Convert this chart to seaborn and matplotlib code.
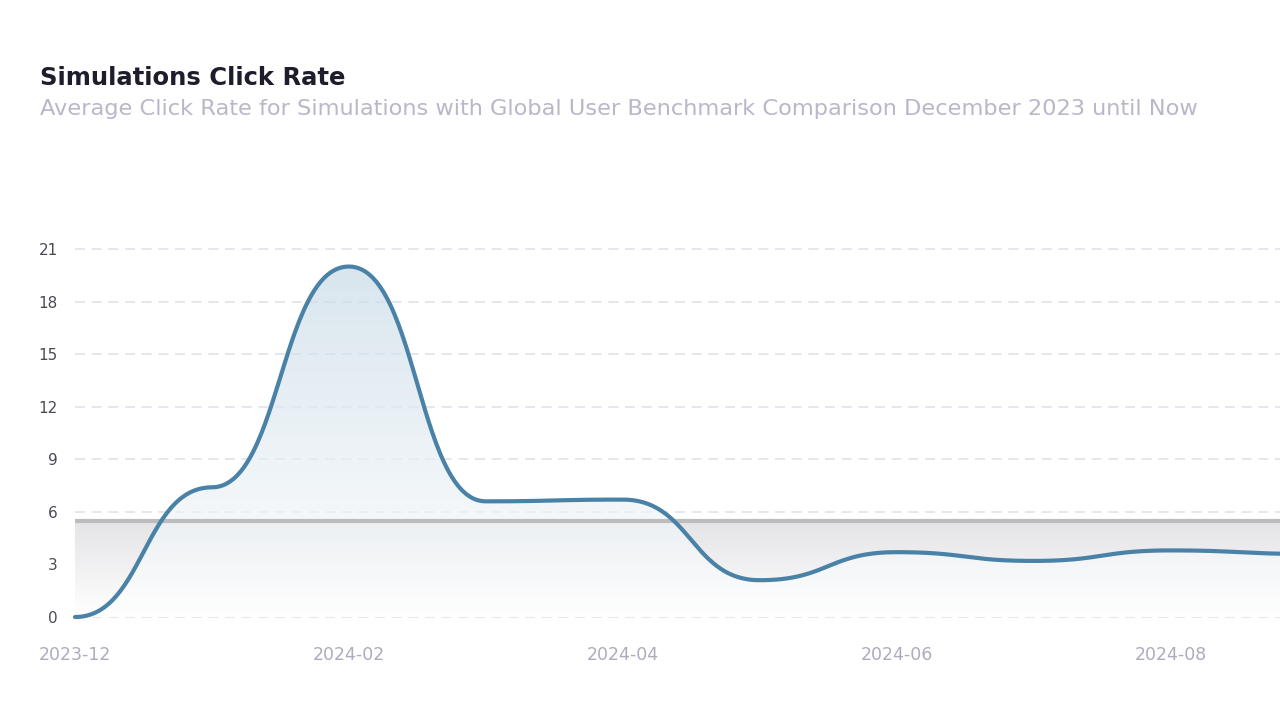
import numpy as np
import pandas as pd
import seaborn as sns
import matplotlib.pyplot as plt
from matplotlib.colors import LinearSegmentedColormap

# DATA
months = ["2023-12", "2024-01", "2024-02", "2024-03", "2024-04",
          "2024-05", "2024-06", "2024-07", "2024-08", "2024-09"]
click_rate = [0.0, 7.4, 20.0, 6.6, 6.7, 2.1, 3.7, 3.2, 3.8, 3.6]
benchmark = 5.5
tick_labels = ["2023-12", "2024-02", "2024-04", "2024-06", "2024-08"]
y_ticks = [0, 3, 6, 9, 12, 15, 18, 21]

# VISUAL SETTINGS
sns.set_theme(style="white")
plt.rcParams["font.family"] = ["DejaVu Sans"]

LINE = "#4a82a7"
GRID = "#e2e2ea"


def smooth(xs, ys, n=60):
    # bezier segments with flat tangents at every point (apex "smooth" style)
    px, py = [xs[0]], [ys[0]]
    t = np.linspace(0, 1, n)[1:]
    for i in range(len(xs) - 1):
        x0, x1 = xs[i], xs[i + 1]
        y0, y1 = ys[i], ys[i + 1]
        cx1, cx2 = x0 + (x1 - x0) / 2, x1 - (x1 - x0) / 2
        bx = (1 - t) ** 3 * x0 + 3 * (1 - t) ** 2 * t * cx1 + 3 * (1 - t) * t ** 2 * cx2 + t ** 3 * x1
        by = (1 - t) ** 3 * y0 + 3 * (1 - t) ** 2 * t * y0 + 3 * (1 - t) * t ** 2 * y1 + t ** 3 * y1
        px.extend(bx)
        py.extend(by)
    return np.array(px), np.array(py)


x_idx = np.arange(len(months))
sx, sy = smooth(x_idx, click_rate)
curve = pd.DataFrame({"x": sx, "rate": sy})

fig = plt.figure(figsize=(12.8, 7.02), dpi=100)
ax = fig.add_axes([75 / 1280, 85 / 702, 1205 / 1280, 368 / 702])
ax.set_xlim(0, 8.80)
ax.set_ylim(0, 21)

# gradient fill under the benchmark line (grey)
grey_cmap = LinearSegmentedColormap.from_list("g", ["#ffffff", "#e4e4e7"])
grad = np.linspace(0, 1, 256).reshape(-1, 1)
poly = ax.fill_between([0, 10], 0, benchmark, color="none")
im = ax.imshow(grad, cmap=grey_cmap, aspect="auto", origin="lower",
               extent=[0, 10, 0, benchmark], zorder=1)
im.set_clip_path(poly.get_paths()[0], transform=ax.transData)

# gradient fill under the click rate curve (blue)
blue_cmap = LinearSegmentedColormap.from_list("b", ["#ffffff", "#c9dbe7"])
poly2 = ax.fill_between(sx, 0, sy, color="none")
im2 = ax.imshow(grad, cmap=blue_cmap, aspect="auto", origin="lower",
                extent=[0, 10, 0, max(click_rate)], zorder=1.5, alpha=0.7)
im2.set_clip_path(poly2.get_paths()[0], transform=ax.transData)

# grid lines
for v in y_ticks:
    ax.axhline(v, color=GRID, lw=1.2, ls=(0, (6, 4)), zorder=0.5, clip_on=False)

# benchmark line
ax.axhline(benchmark, color="#bcbcbc", lw=3, zorder=2)

# click rate line
sns.lineplot(data=curve, x="x", y="rate", ax=ax, color=LINE, lw=3,
             zorder=3, clip_on=False, sort=False)

ax.set_xticks([0, 2, 4, 6, 8])
ax.set_xticklabels(tick_labels, color="#aeabbd", fontsize=12.5)
ax.set_yticks(y_ticks)
ax.set_yticklabels([str(v) for v in y_ticks], color="#4a4a55", fontsize=11)
ax.tick_params(axis="x", length=0, pad=21)
ax.tick_params(axis="y", length=0, pad=12.5)
ax.set_xlabel("")
ax.set_ylabel("")
for s in ax.spines.values():
    s.set_visible(False)

fig.text(40 / 1280, 1 - 85 / 702, "Simulations Click Rate", fontsize=17.5,
         fontweight="bold", color="#1d1d2b", va="baseline")
fig.text(40 / 1280, 1 - 115 / 702,
         "Average Click Rate for Simulations with Global User Benchmark Comparison December 2023 until Now",
         fontsize=16.2, color="#b9b7c9", va="baseline")

fig.savefig("out.png", dpi=100)
